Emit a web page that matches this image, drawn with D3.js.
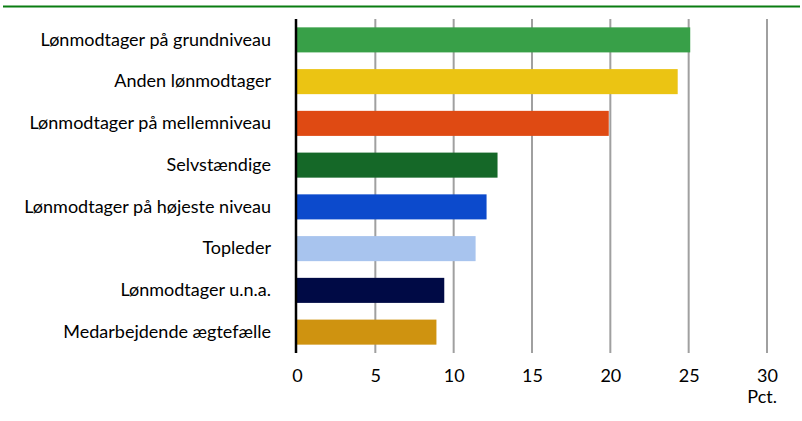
<!DOCTYPE html>
<html>
<head>
<meta charset="utf-8">
<script src="https://cdn.jsdelivr.net/npm/d3@7"></script>
<style>
  body { margin: 0; background: #fff; }
  svg { display: block; font-family: "Lato", "Noto Sans", sans-serif; }
</style>
</head>
<body>
<div id="graph"></div>
<script>
// Chart data
var categories = ['Lønmodtager på grundniveau', 'Anden lønmodtager', 'Lønmodtager på mellemniveau',
    'Selvstændige', 'Lønmodtager på højeste niveau', 'Topleder', 'Lønmodtager u.n.a.',
    'Medarbejdende ægtefælle'];
var values = [25.1, 24.3, 19.9, 12.8, 12.1, 11.4, 9.4, 8.9];
var colors = ['#38a048', '#ebc413', '#df4a13', '#156828', '#0c4acc', '#a8c4ee', '#000a45', '#cf9310'];
var ticks = [0, 5, 10, 15, 20, 25, 30];
var unitLabel = 'Pct.';

// Graph dimensions
var width = 802, height = 421;
var margin = {top: 19, left: 297, right: 36, bottom: 68};

var svg = d3.select('#graph')
    .append('svg')
    .attr('width', width)
    .attr('height', height);

// Top rule
svg.append('line')
    .attr('x1', 3).attr('x2', 800)
    .attr('y1', 6.5).attr('y2', 6.5)
    .attr('stroke', '#0a7d12')
    .attr('stroke-width', 2);

// Scales
var x = d3.scaleLinear().domain([0, 30]).range([margin.left, 767]);
var y = d3.scaleBand().domain(categories)
    .range([margin.top, height - margin.bottom])
    .paddingInner(0.4).paddingOuter(0.2);

// Gridlines
svg.append('g')
    .selectAll('line')
    .data(ticks.slice(1))
    .enter()
    .append('line')
        .attr('x1', function(d) { return x(d); })
        .attr('x2', function(d) { return x(d); })
        .attr('y1', margin.top)
        .attr('y2', height - margin.bottom)
        .attr('stroke', '#a0a0a0')
        .attr('stroke-width', 2);

// Bars
svg.append('g')
    .selectAll('rect')
    .data(values)
    .enter()
    .append('rect')
        .attr('x', x(0))
        .attr('y', function(d, i) { return y(categories[i]); })
        .attr('width', function(d) { return x(d) - x(0); })
        .attr('height', y.bandwidth())
        .attr('fill', function(d, i) { return colors[i]; });

// Zero axis line
svg.append('line')
    .attr('x1', x(0) - 1).attr('x2', x(0) - 1)
    .attr('y1', margin.top).attr('y2', height - margin.bottom)
    .attr('stroke', '#000')
    .attr('stroke-width', 2.5);

// Category labels
var yAxis = d3.axisLeft(y).tickSize(0).tickPadding(0);
svg.append('g')
    .attr('transform', 'translate(' + (x(0) - 26) + ',0)')
    .call(yAxis)
    .call(function(g) { g.select('.domain').remove(); })
    .selectAll('text')
        .attr('font-size', 18)
        .attr('font-family', '"Lato", "Noto Sans", sans-serif')
        .attr('fill', '#000');

// X axis labels
var xAxis = d3.axisBottom(x).tickValues(ticks).tickSize(0).tickPadding(0);
svg.append('g')
    .attr('transform', 'translate(0,' + (height - margin.bottom + 16) + ')')
    .call(xAxis)
    .call(function(g) { g.select('.domain').remove(); })
    .selectAll('text')
        .attr('font-size', 18)
        .attr('font-family', '"Lato", "Noto Sans", sans-serif')
        .attr('fill', '#000');

// Unit label
svg.append('text')
    .attr('x', 777)
    .attr('y', 403)
    .attr('text-anchor', 'end')
    .attr('font-size', 18)
    .attr('fill', '#000')
    .text(unitLabel);
</script>
</body>
</html>
